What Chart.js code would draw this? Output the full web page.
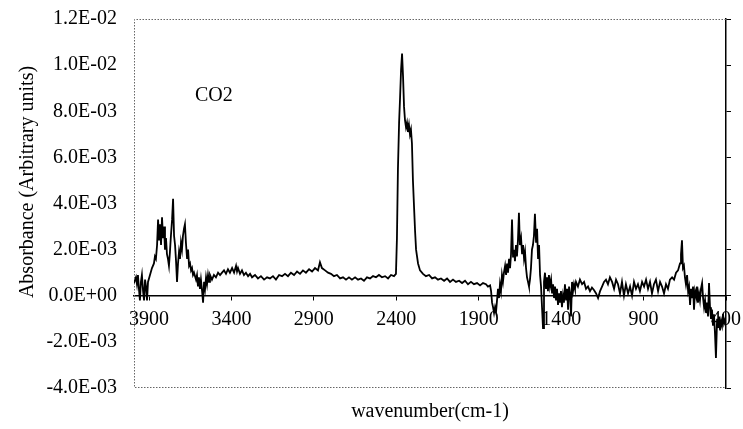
<!DOCTYPE html>
<html>
<head>
<meta charset="utf-8">
<script src="https://cdn.jsdelivr.net/npm/chart.js@4/dist/chart.umd.min.js"></script>
<style>
html, body { margin: 0; padding: 0; background: #ffffff; }
#wrap { width: 743px; height: 429px; }
canvas { display: block; }
</style>
</head>
<body>
<div id="wrap"><canvas id="c" width="743" height="429"></canvas></div>
<script>
// Wavenumber (cm-1) of each sampled point
const wavenumbers = [
  3991,3979,3973,3967,3961,3955,3949,3943,3936,3930,3924,3918,3912,3906,3894,3882,3870,3864,3858,3851,
  3845,3839,3833,3827,3821,3815,3809,3803,3797,3791,3785,3779,3773,3767,3760,3754,3748,3742,3736,3730,
  3724,3718,3712,3706,3700,3694,3688,3682,3676,3669,3663,3657,3651,3645,3639,3633,3627,3615,3609,3603,
  3597,3591,3585,3578,3572,3566,3560,3554,3548,3542,3536,3530,3518,3506,3494,3481,3469,3457,3445,3433,
  3421,3409,3396,3384,3372,3366,3360,3348,3336,3324,3312,3299,3287,3275,3257,3239,3221,3202,3184,3166,
  3148,3130,3111,3093,3075,3057,3039,3020,3002,2984,2966,2948,2929,2911,2893,2875,2863,2851,2832,2814,
  2796,2778,2760,2741,2723,2705,2687,2669,2650,2632,2614,2596,2578,2559,2541,2523,2505,2487,2468,2450,
  2432,2414,2402,2396,2390,2383,2377,2371,2365,2359,2353,2347,2341,2335,2329,2323,2317,2311,2305,2299,
  2292,2286,2280,2268,2256,2238,2220,2201,2183,2165,2147,2129,2110,2092,2074,2056,2038,2019,2001,1983,
  1965,1947,1929,1910,1892,1874,1856,1844,1831,1825,1819,1813,1807,1801,1795,1789,1783,1777,1771,1765,
  1759,1753,1747,1740,1734,1728,1722,1716,1710,1704,1698,1692,1686,1680,1674,1668,1662,1656,1650,1643,
  1637,1631,1625,1619,1613,1607,1601,1595,1589,1583,1577,1571,1565,1559,1552,1546,1540,1534,1528,1522,
  1516,1510,1504,1498,1492,1486,1480,1474,1468,1461,1455,1449,1443,1437,1431,1425,1419,1413,1407,1401,
  1395,1389,1383,1377,1370,1364,1358,1352,1346,1340,1334,1328,1322,1316,1310,1298,1286,1273,1261,1249,
  1237,1225,1213,1201,1188,1176,1164,1152,1140,1128,1116,1104,1091,1079,1067,1055,1043,1031,1019,1007,
  994,982,970,958,946,934,922,909,897,885,873,861,849,837,825,812,800,788,776,764,
  752,740,727,715,703,691,679,673,667,661,655,649,643,636,630,624,618,612,606,600,
  594,588,582,576,570,564,558,552,545,539,533,527,521,515,509,503,497,491,485,479,
  473,467,461,454,448,442,436,430,424,418,412,400
];
// Absorbance, in units of 1E-03 (arbitrary units)
const absorbanceE3 = [
  0.55,0.8,0.5,0.9,0.3,-0.2,0.6,0.9,0.2,-0.2,0.7,0.4,-0.2,0.6,0.9,1.2,1.4,1.7,1.6,2.2,
  3.3,2.4,3.1,2.2,3.4,2.5,3.0,2.0,2.5,1.8,1.6,1.3,1.9,2.6,3.3,4.2,2.6,2.2,1.5,0.6,
  1.4,1.9,1.6,2.3,2.0,2.6,2.9,3.1,2.3,1.6,2.0,1.3,1.4,1.1,1.2,0.9,1.0,0.7,0.9,0.4,
  0.8,0.3,0.7,0.2,-0.3,0.6,0.3,0.8,0.5,0.9,0.6,0.9,0.7,0.9,0.8,1.0,0.9,1.0,1.1,0.95,
  1.15,1.0,1.2,1.0,1.3,1.05,1.2,0.95,1.1,0.9,1.0,0.85,0.95,0.8,0.9,0.75,0.85,0.7,0.8,0.75,
  0.85,0.7,0.9,0.85,0.95,0.85,1.0,0.9,1.05,0.95,1.1,1.0,1.15,1.05,1.2,1.1,1.45,1.2,1.1,1.0,
  0.95,0.85,0.9,0.75,0.8,0.7,0.8,0.7,0.8,0.7,0.75,0.65,0.8,0.75,0.85,0.8,0.9,0.8,0.85,0.75,
  0.9,0.85,0.95,2.5,5.5,7.5,8.6,9.8,10.5,9.5,8.2,7.6,7.3,7.5,7.1,7.4,7.0,7.2,6.6,5.0,
  3.8,2.8,2.0,1.4,1.1,0.95,0.85,0.9,0.75,0.8,0.7,0.75,0.65,0.75,0.6,0.7,0.6,0.65,0.55,0.65,
  0.5,0.6,0.5,0.55,0.45,0.55,0.5,0.4,0.45,0.2,-0.3,-0.5,-0.75,-0.5,-0.7,-0.2,0.3,-0.1,0.5,0.2,
  0.9,0.6,1.0,1.3,0.9,1.4,1.0,1.6,1.2,1.8,3.3,1.7,2.0,1.5,2.2,1.7,2.4,3.6,2.2,2.5,
  1.8,2.2,1.6,1.9,1.2,0.8,0.6,0.4,0.7,1.2,2.0,2.2,2.6,3.55,2.3,2.9,1.6,2.2,0.9,0.4,
  -0.5,-1.4,0.6,1.0,0.3,0.8,0.2,0.9,0.4,0.7,0.1,0.5,-0.1,0.4,-0.2,0.3,-0.4,0.1,-0.3,0.2,
  -0.5,0.0,-0.3,0.5,-0.2,0.3,-0.6,0.4,0.1,-0.9,0.6,0.2,0.5,0.3,0.6,0.4,0.7,0.5,0.6,0.3,
  0.4,0.2,0.35,0.25,0.1,-0.1,0.2,0.4,0.6,0.7,0.5,0.8,0.6,0.3,0.7,0.5,0.1,0.6,0.0,0.5,
  0.1,0.4,0.0,0.6,0.3,0.5,0.2,0.6,0.4,0.7,0.3,0.6,0.1,0.5,0.7,0.2,0.6,0.4,0.1,0.5,
  0.3,0.7,0.8,0.7,1.0,1.1,1.4,1.8,2.4,1.2,1.3,0.8,0.5,0.9,0.2,0.4,-0.4,0.3,-0.1,0.4,
  -0.6,0.2,0.0,0.4,-0.3,0.1,-0.2,0.3,0.55,-0.1,-0.5,-0.2,-0.75,-0.3,-0.9,0.55,-0.5,-1.0,-0.6,-1.3,
  -0.8,-1.6,-2.7,-1.0,-1.4,-0.9,-1.5,-1.1,-1.3,-0.8,-1.2,-0.9
];
const xTickValues = [3900, 3400, 2900, 2400, 1900, 1400, 900, 400];
const yTickValues = [-4, -2, 0, 2, 4, 6, 8, 10, 12];
const yTickLabels = ["-4.0E-03", "-2.0E-03", "0.0E+00", "2.0E-03", "4.0E-03", "6.0E-03", "8.0E-03", "1.0E-02", "1.2E-02"];
const xTitle = "wavenumber(cm-1)";
const yTitle = "Absorbance (Arbitrary units)";
const seriesLabel = "CO2";

const FONT = "'Liberation Serif', 'Times New Roman', serif";
const points = wavenumbers.map((w, i) => ({ x: w, y: absorbanceE3[i] }));

const decor = {
  id: 'decor',
  beforeDatasetsDraw(chart) {
    const { ctx, chartArea: a } = chart;
    ctx.save();
    ctx.strokeStyle = '#666';
    ctx.lineWidth = 1;
    ctx.setLineDash([1.5, 1.5]);
    ctx.beginPath();
    ctx.moveTo(a.right, a.top + 0.5);
    ctx.lineTo(a.left + 0.5, a.top + 0.5);
    ctx.lineTo(a.left + 0.5, a.bottom - 0.5);
    ctx.lineTo(a.right, a.bottom - 0.5);
    ctx.stroke();
    ctx.restore();
  },
  afterDraw(chart) {
    const { ctx } = chart;
    ctx.save();
    ctx.fillStyle = '#000';
    ctx.font = "20px " + FONT;
    ctx.textBaseline = 'middle';
    ctx.textAlign = 'center';
    ctx.fillText(xTitle, 430, 412);
    ctx.textAlign = 'left';
    ctx.fillText(seriesLabel, 195, 96);
    ctx.translate(28, 182);
    ctx.rotate(-Math.PI / 2);
    ctx.textAlign = 'center';
    ctx.fillText(yTitle, 0, 0);
    ctx.restore();
  }
};

const noPad = s => { s.paddingTop = 0; s.paddingBottom = 0; s.paddingLeft = 0; s.paddingRight = 0; };

new Chart(document.getElementById('c'), {
  type: 'line',
  data: {
    datasets: [{
      label: seriesLabel,
      data: points,
      borderColor: '#000',
      borderWidth: 1.8,
      pointRadius: 0,
      tension: 0,
      fill: false,
      yAxisID: 'y'
    }]
  },
  options: {
    responsive: false,
    animation: false,
    devicePixelRatio: 1,
    layout: { padding: { top: 19, bottom: 41, left: 0, right: 11 } },
    plugins: { legend: { display: false }, tooltip: { enabled: false }, title: { display: false } },
    scales: {
      x: {
        type: 'linear',
        reverse: true,
        min: 400,
        max: 3991,
        position: { y: 0 },
        afterBuildTicks: s => { s.ticks = xTickValues.map(v => ({ value: v })); },
        afterFit: noPad,
        grid: { display: true, drawOnChartArea: false, drawTicks: true, tickLength: 4, color: '#000', lineWidth: 1 },
        border: { display: true, color: '#000', width: 1.5 },
        ticks: {
          color: '#000', font: { family: FONT, size: 20 }, padding: 8,
          maxRotation: 0, autoSkip: false, callback: v => String(v)
        }
      },
      y: {
        type: 'linear',
        position: 'left',
        min: -4,
        max: 12,
        afterBuildTicks: s => { s.ticks = yTickValues.map(v => ({ value: v })); },
        afterFit: s => { noPad(s); s.width = 134; },
        grid: { display: false, drawTicks: false, tickLength: 0 },
        border: { display: false },
        ticks: {
          color: '#000', font: { family: FONT, size: 20 }, padding: 17,
          callback: v => yTickLabels[yTickValues.indexOf(v)]
        }
      },
      y2: {
        type: 'linear',
        position: 'right',
        min: -4,
        max: 12,
        afterBuildTicks: s => { s.ticks = yTickValues.map(v => ({ value: v })); },
        afterFit: s => { noPad(s); s.width = 6; },
        grid: { display: true, drawOnChartArea: false, drawTicks: true, tickLength: 5, color: '#000', lineWidth: 1 },
        border: { display: true, color: '#000', width: 1.5 },
        ticks: { display: false }
      }
    }
  },
  plugins: [decor]
});
</script>
</body>
</html>
